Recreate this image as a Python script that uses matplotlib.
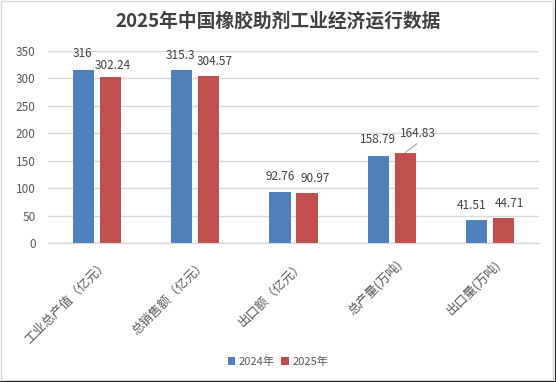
import matplotlib
matplotlib.use("Agg")
import matplotlib.pyplot as plt
import matplotlib.transforms as mtransforms
import numpy as np
from matplotlib.patches import Rectangle

plt.rcParams['font.family'] = ['Noto Sans CJK SC', 'DejaVu Sans']

title = "2025年中国橡胶助剂工业经济运行数据"
categories = ["工业总产值（亿元）", "总销售额（亿元）", "出口额（亿元）", "总产量(万吨)", "出口量(万吨)"]
series_names = ["2024年", "2025年"]
values_2024 = [316, 315.3, 92.76, 158.79, 41.51]
values_2025 = [302.24, 304.57, 90.97, 164.83, 44.71]
label_2024 = ["316", "315.3", "92.76", "158.79", "41.51"]
label_2025 = ["302.24", "304.57", "90.97", "164.83", "44.71"]
yticks = [0, 50, 100, 150, 200, 250, 300, 350]

# label offsets in pixels (dx, dy) mimicking the reference placement
off_2024 = [(-1, 16), (-1, 15), (0, 16), (0, 16), (-5, 15)]
off_2025 = [(2, 12), (6, 14), (8, 15), (13, 19), (6, 15)]

colors = ["#4F81BD", "#C0504D"]
text_color = "#595959"

W, H = 556, 382
fig = plt.figure(figsize=(W / 100, H / 100), dpi=100)
fig.patch.set_facecolor("white")

# chart border
fig.add_artist(Rectangle((0.5 / W, 2.5 / H), 552.5 / W, 379 / H, transform=fig.transFigure,
                         fill=False, edgecolor="#d9d9d9", linewidth=1))
fig.add_artist(Rectangle((554.5 / W, 0), 1.5 / W, 1, transform=fig.transFigure,
                         facecolor="#222222", edgecolor="none"))
fig.add_artist(Rectangle((0, 0), 1, 1.5 / H, transform=fig.transFigure,
                         facecolor="#222222", edgecolor="none"))

left, right, top, bottom = 48, 539, 51, 243
ax = fig.add_axes([left / W, 1 - bottom / H, (right - left) / W, (bottom - top) / H])

x = np.arange(len(categories))
bw = 0.214
off = 0.1375
b1 = ax.bar(x - off, values_2024, bw, color=colors[0], label=series_names[0], zorder=3)
b2 = ax.bar(x + off, values_2025, bw, color=colors[1], label=series_names[1], zorder=3)

ax.set_xlim(-0.5, len(categories) - 0.5)
ax.set_ylim(0, 350)
ax.set_yticks(yticks)
ax.set_yticklabels([str(v) for v in yticks])
ax.yaxis.grid(True, color="#d9d9d9", linewidth=1, zorder=0)
ax.set_axisbelow(True)
for s in ["top", "right", "left"]:
    ax.spines[s].set_visible(False)
ax.spines["bottom"].set_color("#d9d9d9")
ax.spines["bottom"].set_linewidth(1)
ax.tick_params(axis="y", length=0, pad=9, labelsize=8.5, labelcolor=text_color)
ax.tick_params(axis="x", length=0, pad=14, labelsize=9, labelcolor=text_color)
ax.set_xticks(x)
ax.set_xticklabels(categories, rotation=45, ha="right", va="center", rotation_mode="anchor")
shift = mtransforms.ScaledTranslation(9 / 100, 0, fig.dpi_scale_trans)
for lbl in ax.get_xticklabels():
    lbl.set_transform(lbl.get_transform() + shift)

for bars, labels, offs in [(b1, label_2024, off_2024), (b2, label_2025, off_2025)]:
    for rect, lab, (dx, dy) in zip(bars, labels, offs):
        cx = rect.get_x() + rect.get_width() / 2
        ax.annotate(lab, (cx, rect.get_height()), xytext=(dx, dy), textcoords="offset pixels",
                    ha="center", va="center", fontsize=8.5, color="#404040")

# leader line for 164.83
rect = b2[3]
ax.annotate("", (rect.get_x() + rect.get_width() / 2, rect.get_height()),
            xytext=(12, 9), textcoords="offset pixels",
            arrowprops=dict(arrowstyle="-", color="#a6a6a6", lw=0.8, shrinkA=0, shrinkB=0))

fig.text(0.5, 1 - 21 / H, title, ha="center", va="center", fontsize=13.5, fontweight="bold",
         color="#404040")

fig.legend(loc="center", bbox_to_anchor=(0.5, 1 - 362 / H), ncol=2, frameon=False,
           fontsize=8, handlelength=0.7, handleheight=0.7, handletextpad=0.3,
           columnspacing=0.6, labelcolor=text_color)

fig.savefig("out.png", dpi=100)
